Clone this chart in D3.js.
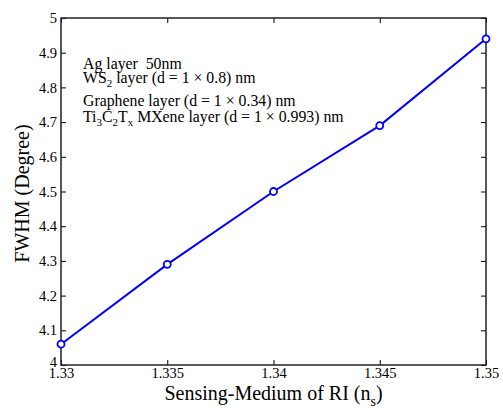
<!DOCTYPE html>
<html>
<head>
<meta charset="utf-8">
<script src="https://cdn.jsdelivr.net/npm/d3@7"></script>
<style>
  body { margin: 0; background: #fff; }
  text { font-family: "Liberation Serif", "Times New Roman", serif; fill: #000; }
</style>
</head>
<body>
<svg id="chart" width="503" height="409"></svg>
<script>
// data
var riValues = [1.33, 1.335, 1.34, 1.345, 1.35];
var fwhmValues = [4.06, 4.29, 4.50, 4.69, 4.94];
var xTicks = [1.33, 1.335, 1.34, 1.345, 1.35];
var yTicks = [4, 4.1, 4.2, 4.3, 4.4, 4.5, 4.6, 4.7, 4.8, 4.9, 5];

var svg = d3.select("#chart"),
	margin = {top: 18, right: 17, bottom: 44, left: 61},
	width = +svg.attr("width") - margin.left - margin.right,
	height = +svg.attr("height") - margin.top - margin.bottom,
	g = svg.append("g").attr("transform", "translate(" + margin.left + "," + margin.top + ")");

var x = d3.scaleLinear().domain([1.33, 1.35]).range([0, width]);
var y = d3.scaleLinear().domain([4, 5]).range([height, 0]);

var fmt = function (d) { return String(+d.toFixed(3)); };

// axes with inward ticks on all four sides
var axes = [
	{ax: d3.axisBottom(x).tickValues(xTicks).tickSizeInner(-5).tickSizeOuter(0).tickPadding(3).tickFormat(fmt), t: "translate(0," + height + ")", labels: true},
	{ax: d3.axisTop(x).tickValues(xTicks).tickSizeInner(-5).tickSizeOuter(0), t: "translate(0,0)", labels: false},
	{ax: d3.axisLeft(y).tickValues(yTicks).tickSizeInner(-5).tickSizeOuter(0).tickPadding(4).tickFormat(fmt), t: "translate(0,0)", labels: true},
	{ax: d3.axisRight(y).tickValues(yTicks).tickSizeInner(-5).tickSizeOuter(0), t: "translate(" + width + ",0)", labels: false}
];
axes.forEach(function (a) {
	var ag = g.append("g").attr("transform", a.t).call(a.ax);
	ag.attr("font-family", null).attr("font-size", null);
	ag.select(".domain").remove();
	ag.selectAll("line").attr("stroke", "#000").attr("stroke-width", 1);
	ag.selectAll("text").style("font-size", "14.5px").attr("fill", "#000");
	if (!a.labels) ag.selectAll("text").remove();
});
// the "4" sits slightly above the corner in the original
g.selectAll("text").filter(function (d) { return d === 4; }).attr("dy", "0.1em");

// box
g.append("rect")
	.attr("width", width).attr("height", height)
	.attr("fill", "none").attr("stroke", "#222").attr("stroke-width", 1.5);

var pts = riValues.map(function (v, i) { return [v, fwhmValues[i]]; });

g.append("path")
	.datum(pts)
	.attr("fill", "none")
	.attr("stroke", "#0000ff")
	.attr("stroke-width", 2)
	.attr("d", d3.line().x(function (d) { return x(d[0]); }).y(function (d) { return y(d[1]); }));

g.selectAll("circle")
	.data(pts)
	.enter().append("circle")
	.attr("cx", function (d) { return x(d[0]); })
	.attr("cy", function (d) { return y(d[1]); })
	.attr("r", 3.5)
	.attr("fill", "#fff")
	.attr("stroke", "#0000ff")
	.attr("stroke-width", 1.8);

// annotation text
var note = g.append("g").attr("font-size", "15.8px");
var n1 = note.append("text").attr("x", 22).attr("y", 51);
n1.text("Ag layer \u00a050nm");
var n2 = note.append("text").attr("x", 22).attr("y", 65);
n2.append("tspan").text("WS");
n2.append("tspan").attr("dy", 4).attr("font-size", "11px").text("2");
n2.append("tspan").attr("dy", -4).text(" layer (d = 1 \u00d7 0.8) nm");
var n3 = note.append("text").attr("x", 22).attr("y", 88);
n3.text("Graphene layer (d = 1 \u00d7 0.34) nm");
var n4 = note.append("text").attr("x", 22).attr("y", 104);
n4.append("tspan").text("Ti");
n4.append("tspan").attr("dy", 4).attr("font-size", "11px").text("3");
n4.append("tspan").attr("dy", -4).text("C");
n4.append("tspan").attr("dy", 4).attr("font-size", "11px").text("2");
n4.append("tspan").attr("dy", -4).text("T");
n4.append("tspan").attr("dy", 4).attr("font-size", "11px").text("x");
n4.append("tspan").attr("dy", -4).text(" MXene layer (d = 1 \u00d7 0.993) nm");

// axis titles
var xl = svg.append("text")
	.attr("x", margin.left + width / 2).attr("y", 400)
	.attr("text-anchor", "middle").attr("font-size", "20px");
xl.append("tspan").text("Sensing-Medium of RI (n");
xl.append("tspan").attr("dy", 6).attr("font-size", "14px").text("s");
xl.append("tspan").attr("dy", -6).text(")");

svg.append("text")
	.attr("transform", "translate(29," + (margin.top + height / 2 + 2) + ") rotate(-90)")
	.attr("text-anchor", "middle").attr("font-size", "20px")
	.text("FWHM (Degree)");
</script>
</body>
</html>
